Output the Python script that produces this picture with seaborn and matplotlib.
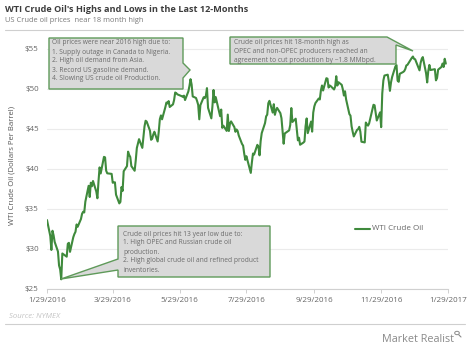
import numpy as np
import pandas as pd
import matplotlib
matplotlib.use("Agg")
import matplotlib.pyplot as plt
from matplotlib.patches import Polygon, Circle
from matplotlib.lines import Line2D
import seaborn as sns

# WTI front-month settlement prices (USD/bbl), one list per month
jan16 = [33.62]
feb16 = [31.62, 29.88, 32.28, 31.72, 30.89, 29.69, 27.94, 27.45, 26.21, 29.44,
         29.04, 30.66, 30.77, 29.64, 31.48, 31.87, 32.15, 33.07, 32.78, 33.75]
mar16 = [34.40, 34.66, 34.57, 35.92, 37.90, 36.50, 38.29, 37.84, 38.50, 37.18, 36.34,
         38.46, 40.20, 39.44, 41.52, 41.45, 39.79, 39.46, 39.39, 38.28, 38.32, 38.34]
apr16 = [36.79, 35.70, 35.89, 37.75, 37.26, 39.72, 40.36, 42.17, 41.76, 41.50, 40.36,
         39.78, 41.08, 42.63, 43.18, 43.73, 42.64, 44.04, 45.33, 46.03, 45.92]
may16 = [44.78, 43.65, 43.78, 44.32, 44.66, 43.44, 44.66, 46.23, 46.70, 46.21, 47.72,
         48.31, 48.19, 48.49, 47.75, 48.08, 48.62, 49.56, 49.48, 49.33, 49.10]
jun16 = [49.01, 49.17, 48.62, 49.69, 50.36, 51.23, 50.56, 49.07, 48.88, 48.49, 48.01,
         46.21, 47.98, 48.97, 48.85, 49.13, 50.11, 47.64, 46.33, 47.85, 49.88, 48.33]
jul16 = [48.99, 46.60, 47.43, 45.14, 45.41, 44.76, 46.80, 44.75, 45.68, 45.95,
         45.24, 44.65, 44.94, 44.75, 44.19, 43.13, 42.92, 41.92, 41.14, 41.60]
aug16 = [40.06, 39.51, 40.83, 41.93, 41.80, 43.02, 42.77, 41.71, 43.49, 44.49, 45.74, 46.58,
         46.79, 48.22, 48.52, 47.05, 48.10, 46.77, 47.33, 47.64, 46.98, 46.35, 44.70]
sep16 = [43.16, 44.44, 44.83, 45.50, 47.62, 45.88, 46.29, 44.90, 43.58, 43.91, 43.03,
         43.30, 43.44, 45.34, 46.32, 44.48, 45.93, 44.67, 47.05, 47.83, 48.24]
oct16 = [48.81, 48.69, 49.83, 50.44, 49.81, 51.35, 51.29, 50.18, 50.44, 50.35, 49.94,
         50.29, 51.60, 50.43, 50.85, 50.52, 49.96, 49.18, 49.72, 48.70, 46.86]
nov16 = [46.67, 45.34, 44.66, 44.07, 44.89, 44.98, 45.27, 44.66, 43.41, 43.32, 45.81,
         45.57, 45.42, 45.69, 47.49, 48.03, 47.96, 46.06, 47.08, 45.23, 49.44]
dec16 = [51.06, 51.68, 51.79, 50.93, 49.77, 50.84, 51.50, 52.83, 52.98, 51.04, 50.90,
         51.90, 52.12, 52.23, 52.49, 52.95, 53.02, 53.90, 54.06, 53.77, 53.72]
jan17 = [52.33, 53.26, 53.76, 53.99, 51.96, 50.82, 52.25, 53.01, 52.37,
         52.48, 51.08, 51.37, 52.42, 52.75, 53.18, 52.75, 53.78, 53.17]

# NYMEX closures inside the window
exchange_holidays = ["2016-02-15", "2016-03-25", "2016-05-30", "2016-07-04", "2016-09-05",
                     "2016-11-24", "2016-12-26", "2017-01-02", "2017-01-16"]

tick_labels = ["1/29/2016", "3/29/2016", "5/29/2016", "7/29/2016",
               "9/29/2016", "11/29/2016", "1/29/2017"]
y_ticks = [25, 30, 35, 40, 45, 50, 55]
series_name = "WTI Crude Oil"

prices = (jan16 + feb16 + mar16 + apr16 + may16 + jun16 + jul16 + aug16
          + sep16 + oct16 + nov16 + dec16 + jan17)
dates = pd.bdate_range("2016-01-29", "2017-01-27", freq="C", holidays=exchange_holidays)
df = pd.DataFrame({"Date": dates[:len(prices)], series_name: prices})

# ---- styling ----
sns.set_style("white")
plt.rcParams["font.family"] = ["Open Sans", "DejaVu Sans"]

W, H = 474, 347
fig = plt.figure(figsize=(W / 100, H / 100), dpi=100)

def fx(px):
    return px / W

def fy(py):
    return 1 - py / H

# axes placed so that $25 sits at y=289px and $56 at y=41px
ax_l, ax_r, ax_b, ax_t = 47, 448, 289, 41
ax = fig.add_axes([fx(ax_l), fy(ax_b), fx(ax_r) - fx(ax_l), fy(ax_t) - fy(ax_b)])

line_green = "#3f8a3c"
sns.lineplot(data=df, x="Date", y=series_name, ax=ax, color=line_green,
             linewidth=1.5, legend=False)

ax.set_xlim(pd.Timestamp("2016-01-29"), pd.Timestamp("2017-01-29"))
ax.set_ylim(25, 56)
ax.set_yticks(y_ticks)
ax.set_yticklabels([f"${v}" for v in y_ticks])
ax.set_xticks([pd.Timestamp(t) for t in tick_labels])
ax.set_xticklabels(tick_labels)
ax.set_xlabel("")
ax.set_ylabel("WTI Crude Oil (Dollars Per Barrel)", fontsize=5.6, color="#555555", labelpad=7)

ax.grid(axis="y", color="#ebebeb", linewidth=0.8)
ax.grid(axis="x", visible=False)
for s in ["top", "right", "left"]:
    ax.spines[s].set_visible(False)
ax.spines["bottom"].set_color("#d0d0d0")
ax.spines["bottom"].set_linewidth(0.8)
ax.tick_params(axis="y", length=0, labelsize=5.8, labelcolor="#666666", pad=6)
ax.tick_params(axis="x", length=3, width=0.7, color="#d0d0d0", labelsize=5.8,
               labelcolor="#666666", pad=3, direction="out", bottom=True)

# ---- callout boxes (pixel outlines on the figure) ----
box_fill = "#d9d9d9"
box_edge = "#5f9a5a"
note_color = "#6b6b6b"

def callout(points):
    pts = [(fx(x), fy(y)) for x, y in points]
    fig.add_artist(Polygon(pts, closed=True, transform=fig.transFigure,
                           facecolor=box_fill, edgecolor=box_edge, linewidth=1.0,
                           zorder=5))

def note(x, y, lines, step=9.0):
    for i, t in enumerate(lines):
        fig.text(fx(x), fy(y + i * step), t, fontsize=4.8, color=note_color,
                 ha="left", va="center", zorder=6)

callout([(49, 38), (183, 38), (183, 63), (190, 70), (183, 78), (183, 89), (49, 89)])
note(52, 43, ["Oil prices were near 2016 high due to:",
              "1. Supply outage in Canada to Nigeria.",
              "2. High oil demand from Asia.",
              "3. Record US gasoline demand.",
              "4. Slowing US crude oil Production."])

callout([(230, 37), (387, 37), (413, 51), (396, 45), (396, 64), (230, 64)])
note(234, 43, ["Crude oil prices hit 18-month high as",
               "OPEC and non-OPEC producers reached an",
               "agreement to cut production by ~1.8 MMbpd."], step=8.6)

callout([(118, 226), (270, 226), (270, 277), (118, 277), (118, 270), (61, 279), (118, 259)])
note(123, 234, ["Crude oil prices hit 13 year low due to:",
                "1. High OPEC and Russian crude oil",
                "production.",
                "2. High global crude oil and refined product",
                "inventories."], step=9.0)

# ---- legend ----
fig.add_artist(Line2D([fx(355), fx(370)], [fy(229), fy(229)], color=line_green,
                      linewidth=1.5, transform=fig.transFigure))
fig.text(fx(372), fy(229), series_name, fontsize=5.8, color="#666666", va="center", ha="left")

# ---- header / footer ----
fig.text(fx(5), fy(9), "WTI Crude Oil's Highs and Lows in the Last 12-Months",
         fontsize=6.6, fontweight="bold", color="#3d3d3d", ha="left", va="center")
fig.text(fx(5), fy(20), "US Crude oil prices  near 18 month high",
         fontsize=5.4, color="#7a7a7a", ha="left", va="center")
fig.add_artist(Line2D([fx(5), fx(463)], [fy(30), fy(30)], color="#cfcfcf",
                      linewidth=0.8, transform=fig.transFigure))

fig.text(fx(9), fy(317), "Source: NYMEX", fontsize=5.6, style="italic",
         color="#c4c4c4", ha="left", va="center")
fig.add_artist(Line2D([fx(5), fx(465)], [fy(324), fy(324)], color="#cfcfcf",
                      linewidth=0.8, transform=fig.transFigure))
fig.text(fx(382), fy(339), "Market Realist", fontsize=7.8, color="#8a8a8a",
         ha="left", va="center")
# small magnifier mark next to the brand name
fig.add_artist(Circle((fx(457), fy(333)), 2.3 / W, transform=fig.transFigure,
                      fill=False, edgecolor="#8a8a8a", linewidth=0.7))
fig.add_artist(Line2D([fx(458.8), fx(461)], [fy(334.8), fy(337)], color="#8a8a8a",
                      linewidth=0.8, transform=fig.transFigure))

fig.savefig("out.png", dpi=100)
